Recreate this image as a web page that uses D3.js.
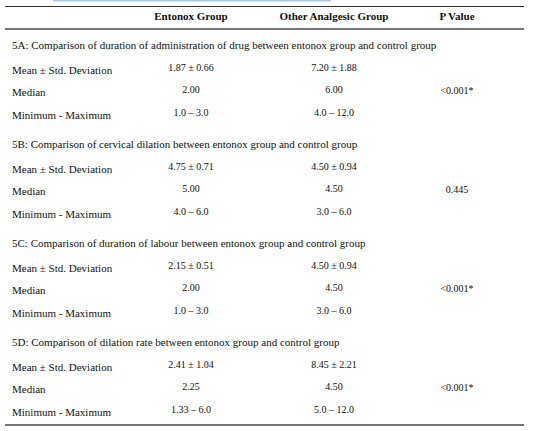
<!DOCTYPE html>
<html>
<head>
<meta charset="utf-8">
<script src="https://cdn.jsdelivr.net/npm/d3@7"></script>
<style>
  body { margin: 0; background: #fff; }
  svg text { font-family: "Liberation Serif", "DejaVu Serif", serif; fill: #111; }
</style>
</head>
<body>
<svg id="svgID" width="548" height="431"></svg>
<script>
// column headers
var columns = ["", "Entonox Group", "Other Analgesic Group", "P Value"];

// section titles
var sections = [
    "5A: Comparison of duration of administration of drug between entonox group and control group",
    "5B: Comparison of cervical dilation between entonox group and control group",
    "5C: Comparison of duration of labour between entonox group and control group",
    "5D: Comparison of dilation rate between entonox group and control group"
];

var rowLabels = ["Mean \u00b1 Std. Deviation", "Median", "Minimum - Maximum"];

// values per section: [mean±sd, median, min-max]
var entonox = [
    ["1.87 \u00b1 0.66", "2.00", "1.0 \u2013 3.0"],
    ["4.75 \u00b1 0.71", "5.00", "4.0 \u2013 6.0"],
    ["2.15 \u00b1 0.51", "2.00", "1.0 \u2013 3.0"],
    ["2.41 \u00b1 1.04", "2.25", "1.33 \u2013 6.0"]
];
var otherGroup = [
    ["7.20 \u00b1 1.88", "6.00", "4.0 \u2013 12.0"],
    ["4.50 \u00b1 0.94", "4.50", "3.0 \u2013 6.0"],
    ["4.50 \u00b1 0.94", "4.50", "3.0 \u2013 6.0"],
    ["8.45 \u00b1 2.21", "4.50", "5.0 \u2013 12.0"]
];
var pValues = ["<0.001*", "0.445", "<0.001*", "<0.001*"];

var svg = d3.select("#svgID");

// column centres
var x = d3.scaleOrdinal()
    .domain(columns.slice(1))
    .range([191, 334, 457]);

// section offsets
var sy = d3.scaleLinear().domain([0, 3]).range([49, 346]);

// faint blue line at the very top
svg.append("line")
    .attr("x1", 53).attr("x2", 331)
    .attr("y1", 0.5).attr("y2", 0.5)
    .style("stroke", "#a9c9e3").style("stroke-width", 2);

// rules
svg.append("line")
    .attr("x1", 5).attr("x2", 524).attr("y1", 6.5).attr("y2", 6.5)
    .style("stroke", "#333").style("stroke-width", 1.2);
svg.append("line")
    .attr("x1", 5).attr("x2", 524).attr("y1", 29).attr("y2", 29)
    .style("stroke", "#777").style("stroke-width", 2);
svg.append("line")
    .attr("x1", 5).attr("x2", 524).attr("y1", 425).attr("y2", 425)
    .style("stroke", "#777").style("stroke-width", 2);

// header
svg.append("g").selectAll("text")
    .data(columns.slice(1)).enter()
    .append("text")
    .attr("x", function(d) { return x(d); })
    .attr("y", 19.5)
    .attr("text-anchor", "middle")
    .style("font-size", "11px")
    .style("font-weight", "bold")
    .text(function(d) { return d; });

var sec = svg.append("g").selectAll("g")
    .data(sections).enter()
    .append("g")
    .attr("transform", function(d, i) { return "translate(0," + sy(i) + ")"; });

sec.append("text")
    .attr("x", 12)
    .attr("y", 0)
    .style("font-size", "11px")
    .text(function(d) { return d; });

var rowY = [25, 47, 70];

sec.each(function(d, i) {
    var g = d3.select(this);
    g.selectAll(".lbl").data(rowLabels).enter()
        .append("text").attr("class", "lbl")
        .attr("x", 12)
        .attr("y", function(r, j) { return rowY[j]; })
        .style("font-size", "11px")
        .text(function(r) { return r; });

    g.selectAll(".ent").data(entonox[i]).enter()
        .append("text").attr("class", "ent")
        .attr("x", x(columns[1]))
        .attr("y", function(r, j) { return rowY[j] - 3; })
        .attr("text-anchor", "middle")
        .style("font-size", "10px")
        .text(function(r) { return r; });

    g.selectAll(".oth").data(otherGroup[i]).enter()
        .append("text").attr("class", "oth")
        .attr("x", x(columns[2]))
        .attr("y", function(r, j) { return rowY[j] - 3; })
        .attr("text-anchor", "middle")
        .style("font-size", "10px")
        .text(function(r) { return r; });

    g.append("text")
        .attr("x", x(columns[3]))
        .attr("y", rowY[1] - 2)
        .attr("text-anchor", "middle")
        .style("font-size", "10px")
        .text(pValues[i]);
});
</script>
</body>
</html>
